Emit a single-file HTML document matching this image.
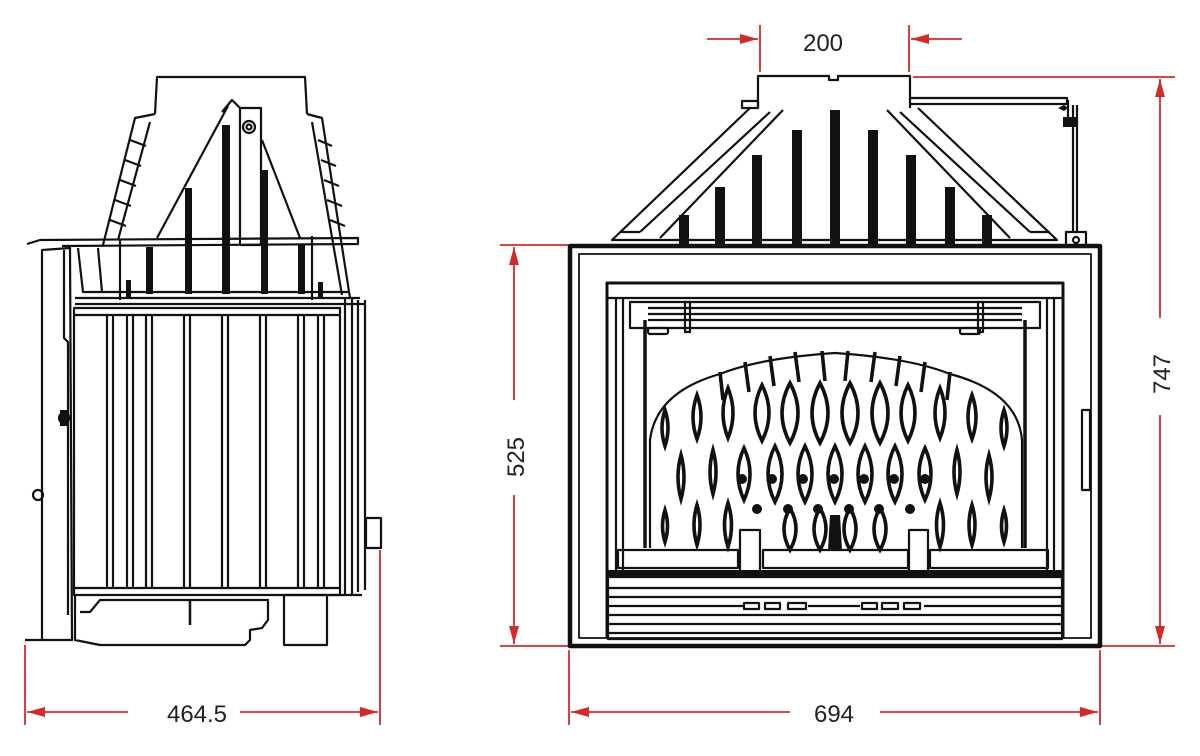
<!DOCTYPE html>
<html><head><meta charset="utf-8"><style>
html,body{margin:0;padding:0;background:#fff;}
svg{display:block}
text{font-family:"Liberation Sans",Arial,sans-serif;fill:#222;font-size:24px}
</style></head><body>
<svg width="1200" height="756" viewBox="0 0 1200 756" xmlns="http://www.w3.org/2000/svg">
<defs>
<marker id="ar2" markerWidth="18" markerHeight="10" refX="18" refY="5" orient="auto" markerUnits="userSpaceOnUse"><path d="M0,0 L18,5 L0,10 Z" fill="#d42a2a"/></marker>
</defs>

<!-- ================= DIMENSIONS ================= -->
<g stroke="#d42a2a" stroke-width="1.8" fill="none">
  <line x1="25" y1="645" x2="25" y2="725"/>
  <line x1="380" y1="550" x2="380" y2="725"/>
  <line x1="128" y1="712" x2="27" y2="712" marker-end="url(#ar2)"/>
  <line x1="240" y1="712" x2="378" y2="712" marker-end="url(#ar2)"/>
  <line x1="569" y1="650" x2="569" y2="725"/>
  <line x1="1100" y1="650" x2="1100" y2="725"/>
  <line x1="790" y1="712" x2="571" y2="712" marker-end="url(#ar2)"/>
  <line x1="880" y1="712" x2="1098" y2="712" marker-end="url(#ar2)"/>
  <line x1="500" y1="245" x2="568" y2="245"/>
  <line x1="500" y1="646" x2="568" y2="646"/>
  <line x1="514" y1="400" x2="514" y2="247" marker-end="url(#ar2)"/>
  <line x1="514" y1="495" x2="514" y2="644" marker-end="url(#ar2)"/>
  <line x1="913" y1="77" x2="1175" y2="77"/>
  <line x1="1040" y1="646" x2="1175" y2="646"/>
  <line x1="1160" y1="318" x2="1160" y2="79" marker-end="url(#ar2)"/>
  <line x1="1160" y1="415" x2="1160" y2="644" marker-end="url(#ar2)"/>
  <line x1="760" y1="25" x2="760" y2="72"/>
  <line x1="909" y1="25" x2="909" y2="72"/>
  <line x1="707" y1="39" x2="758" y2="39" marker-end="url(#ar2)"/>
  <line x1="962" y1="39" x2="911" y2="39" marker-end="url(#ar2)"/>
</g>
<text x="197" y="722" text-anchor="middle">464.5</text>
<text x="834" y="722" text-anchor="middle">694</text>
<text x="823" y="51" text-anchor="middle">200</text>
<text transform="translate(524,457) rotate(-90)" text-anchor="middle">525</text>
<text transform="translate(1170,374) rotate(-90)" text-anchor="middle">747</text>

<!-- ================= LEFT (SIDE) VIEW ================= -->
<g stroke="#111" stroke-width="2.2" fill="none" stroke-linejoin="round">
  <path d="M155,114 L157,77 L305,77 L307,114"/>
  <path d="M155,114 L135,118 L103,245"/>
  <path d="M150,122 L118,240"/>
  <path d="M307,114 L322,118 L350,298"/>
  <path d="M312,122 L342,295"/>
  <path d="M130,140 L146,146 M125,160 L141,166 M120,180 L136,186 M115,200 L131,206 M110,220 L126,226"/>
  <path d="M318,140 L332,146 M321,160 L336,166 M324,180 L339,186 M327,200 L342,206 M330,220 L345,226"/>
  <path d="M228,106 L157,238"/>
  <path d="M262,140 L300,238"/>
  <path d="M222,112 L232,100 L240,108 L261,108 L261,245 L240,245 L240,108"/>
  <circle cx="249" cy="127" r="6"/>
  <circle cx="249" cy="127" r="2.5"/>
  <path d="M27,244 L40,240 L358,238 L358,244 L62,246"/>
  <path d="M78,248 L83,292 L350,292"/>
  <path d="M98,248 L102,292"/>
  <line x1="75" y1="298" x2="360" y2="298"/>
  <line x1="75" y1="304" x2="365" y2="304"/>
  <line x1="120" y1="240" x2="120" y2="300"/>
  <line x1="312" y1="236" x2="312" y2="300"/>
  <path d="M42,640 L42,250 L70,248 L72,640 Z"/>
  <path d="M64,250 L64,338 L68,342 L68,615"/>
  <rect x="74" y="308" width="266" height="287"/>
  <line x1="74" y1="315" x2="340" y2="315"/>
  <line x1="74" y1="588" x2="340" y2="588"/>
  <path d="M345,298 L345,595 M352,298 L352,595 M358,300 L358,592 M365,300 L365,590"/>
  <path d="M330,595 L362,595"/>
  <path d="M107,315 L107,588 M113,315 L113,588 M127,315 L127,588 M133,315 L133,588 M146,315 L146,588 M152,315 L152,588 M184,315 L184,588 M190,315 L190,588 M222,315 L222,588 M228,315 L228,588 M260,315 L260,588 M266,315 L266,588 M298,315 L298,588 M304,315 L304,588 M318,315 L318,588 M324,315 L324,588"/>
  <circle cx="38" cy="495" r="5"/>
  <circle cx="64" cy="418" r="5"/>
  <rect x="366" y="518" width="15" height="30"/>
  <path d="M75,595 L75,640 L100,645 L245,645 L250,640 L250,630 L262,628 L268,620 L268,600 L100,600 L90,612 L80,612"/>
  <rect x="284" y="595" width="43" height="50"/>
  <path d="M190,600 L190,625" stroke-width="2.5"/>
  <path d="M25,640 L42,640"/>
</g>
<g fill="#111">
  <rect x="146" y="247" width="7" height="47"/>
  <rect x="185" y="188" width="7" height="106"/>
  <rect x="222" y="125" width="8" height="169"/>
  <rect x="261" y="170" width="7" height="124"/>
  <rect x="298" y="245" width="7" height="49"/>
  <rect x="126" y="280" width="5" height="18"/>
  <rect x="318" y="282" width="5" height="16"/>
  <rect x="60" y="410" width="8" height="16"/>
</g>

<!-- ================= RIGHT (FRONT) VIEW ================= -->
<g stroke="#111" stroke-width="2.2" fill="none" stroke-linejoin="round">
  <path d="M758,108 L758,76 L829,76 L829,80 L838,80 L838,76 L910,76 L910,108"/>
  <rect x="742" y="101" width="16" height="7"/>
  <path d="M910,98 L1067,98 L1067,104 L910,104"/>
  <path d="M1068,100 L1068,125 M1073,105 L1073,232 M1077,105 L1077,232"/>
  <rect x="1066" y="232" width="20" height="14"/>
  <circle cx="1076" cy="240" r="3"/>
  <path d="M750,108 L612,240 L1057,240 L918,108"/>
  <path d="M770,112 L640,232 M900,112 L1030,232"/>
  <path d="M783,110 L660,238 M887,110 L1010,238"/>
  <path d="M640,232 L620,232 M1030,232 L1050,232"/>
  <rect x="570" y="246" width="530" height="400" stroke-width="4.5"/>
  <rect x="579" y="254" width="512" height="384" stroke-width="1.8"/>
  <path d="M607,638 L607,283 L1063,283 L1063,638" stroke-width="3"/>
  <line x1="607" y1="298" x2="1063" y2="298"/>
  <line x1="616" y1="298" x2="616" y2="578"/>
  <line x1="623" y1="298" x2="623" y2="578"/>
  <line x1="1047" y1="298" x2="1047" y2="578"/>
  <line x1="1054" y1="298" x2="1054" y2="578"/>
  <line x1="645" y1="320" x2="645" y2="548" stroke-width="3.5"/>
  <line x1="1025" y1="320" x2="1025" y2="548" stroke-width="3.5"/>
  <rect x="630" y="302" width="410" height="26"/>
  <line x1="648" y1="308" x2="1022" y2="308"/>
  <line x1="648" y1="314" x2="1022" y2="314"/>
  <line x1="648" y1="320" x2="1022" y2="320"/>
  <rect x="685" y="302" width="5" height="30"/>
  <rect x="978" y="302" width="5" height="30"/>
  <rect x="648" y="328" width="20" height="6" rx="2"/>
  <rect x="960" y="328" width="20" height="6" rx="2"/>
  <rect x="1082" y="410" width="8" height="80"/>
  <path d="M650,548 L650,440 Q656,392 720,374 Q760,358 835,353 Q910,358 950,374 Q1018,392 1022,440 L1022,548"/>
  <rect x="618" y="550" width="120" height="18"/>
  <rect x="763" y="550" width="145" height="18"/>
  <rect x="930" y="550" width="118" height="18"/>
  <rect x="740" y="530" width="20" height="42" fill="#fff"/>
  <rect x="909" y="530" width="19" height="42" fill="#fff"/>
  <rect x="608" y="577" width="454" height="62"/>
  <path d="M608,588 H1062 M608,597 H1062 M608,606 H744 M808,606 H860 M924,606 H1062 M608,615 H1062 M608,624 H1062 M608,633 H1062"/>
  <path d="M744,603 h15 v6 h-15z M765,603 h15 v6 h-15z M788,603 h18 v6 h-18z M862,603 h15 v6 h-15z M882,603 h16 v6 h-16z M904,603 h16 v6 h-16z"/>
</g>
<g fill="#111">
  <rect x="830" y="110" width="10" height="135"/>
  <rect x="792" y="130" width="10" height="115"/>
  <rect x="868" y="130" width="10" height="115"/>
  <rect x="752" y="155" width="10" height="90"/>
  <rect x="906" y="155" width="10" height="90"/>
  <rect x="715" y="187" width="10" height="58"/>
  <rect x="945" y="187" width="10" height="58"/>
  <rect x="679" y="215" width="10" height="30"/>
  <rect x="982" y="215" width="10" height="30"/>
  <rect x="608" y="570" width="454" height="8"/>
  <path d="M1058,108 l6,-3 l4,3 l-4,3z"/>
  <rect x="1063" y="117" width="14" height="10"/>
</g>
<g stroke="#111" stroke-width="3.6" fill="none">
  <path d="M665,410 q-6,18 0,36 q6,-18 0,-36z M697,395 q-8,22 0,44 q8,-22 0,-44z M728,388 q-10,25 0,50 q10,-25 0,-50z"/>
  <path d="M762,385 q-14,28 0,56 q14,-28 0,-56z M790,383 q-16,30 0,60 q16,-30 0,-60z M820,383 q-16,30 0,60 q16,-30 0,-60z"/>
  <path d="M850,383 q-16,30 0,60 q16,-30 0,-60z M880,383 q-16,30 0,60 q16,-30 0,-60z M908,385 q-14,28 0,56 q14,-28 0,-56z"/>
  <path d="M940,388 q-10,25 0,50 q10,-25 0,-50z M972,395 q-8,22 0,44 q8,-22 0,-44z M1004,410 q-6,18 0,36 q6,-18 0,-36z"/>
  <path d="M681,455 q-6,22 0,44 q6,-22 0,-44z M713,450 q-6,22 0,44 q6,-22 0,-44z M744,448 q-12,26 0,52 q12,-26 0,-52z M775,446 q-14,28 0,56 q14,-28 0,-56z M805,446 q-14,28 0,56 q14,-28 0,-56z M835,446 q-14,28 0,56 q14,-28 0,-56z M865,446 q-14,28 0,56 q14,-28 0,-56z M895,446 q-14,28 0,56 q14,-28 0,-56z M925,448 q-12,26 0,52 q12,-26 0,-52z M957,450 q-6,22 0,44 q6,-22 0,-44z M989,455 q-6,22 0,44 q6,-22 0,-44z"/>
  <path d="M665,510 q-5,16 0,32 q5,-16 0,-32z M697,505 q-6,20 0,40 q6,-20 0,-40z M728,503 q-7,22 0,44 q7,-22 0,-44z M790,508 q-12,21 0,42 q12,-21 0,-42z M820,508 q-12,21 0,42 q12,-21 0,-42z M850,508 q-12,21 0,42 q12,-21 0,-42z M880,508 q-12,21 0,42 q12,-21 0,-42z M940,503 q-7,22 0,44 q7,-22 0,-44z M972,505 q-6,20 0,40 q6,-20 0,-40z M1004,510 q-5,16 0,32 q5,-16 0,-32z"/>
  <path d="M720,372 l3,28 M745,362 l4,30 M770,356 l4,30 M795,352 l4,30 M822,351 l3,30 M848,351 l-3,30 M875,352 l-4,30 M900,356 l-4,30 M925,362 l-4,30 M950,372 l-3,28"/>
</g>
<g fill="#111">
  <circle cx="742" cy="479" r="5"/><circle cx="772" cy="479" r="5"/><circle cx="803" cy="479" r="5"/><circle cx="834" cy="479" r="5"/><circle cx="864" cy="479" r="5"/><circle cx="894" cy="479" r="5"/><circle cx="925" cy="479" r="5"/>
  <circle cx="757" cy="509" r="5"/><circle cx="788" cy="509" r="5"/><circle cx="818" cy="509" r="5"/><circle cx="849" cy="509" r="5"/><circle cx="879" cy="509" r="5"/><circle cx="910" cy="509" r="5"/>
  <path d="M830,515 L840,515 L842,550 L828,550Z"/>
</g>
</svg>
</body></html>
